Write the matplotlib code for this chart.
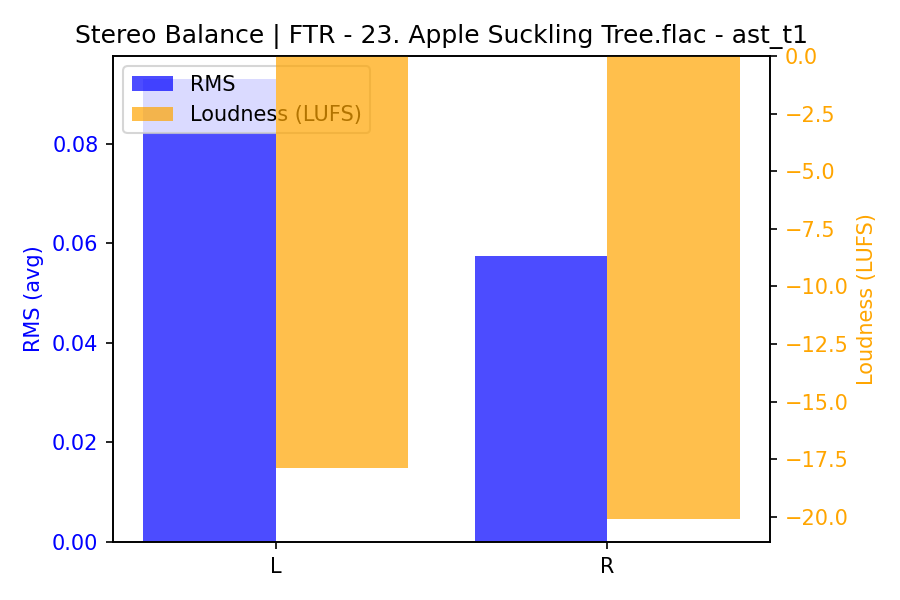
import numpy as np
import matplotlib
matplotlib.use("Agg")
from matplotlib import pyplot as plt

# data
channels = ["L", "R"]
rms_avg = [0.093, 0.0575]
loudness_lufs = [-17.87, -20.08]
title = "Stereo Balance | FTR - 23. Apple Suckling Tree.flac - ast_t1"

BAR_WIDTH = 0.4
x = np.arange(len(channels))

fig, ax1 = plt.subplots(figsize=(6, 4), dpi=150)
ax2 = ax1.twinx()

b1 = ax1.bar(x - BAR_WIDTH/2, rms_avg, width=BAR_WIDTH, color="blue", alpha=0.7, label="RMS")
b2 = ax2.bar(x + BAR_WIDTH/2, loudness_lufs, width=BAR_WIDTH, color="orange", alpha=0.7, label="Loudness (LUFS)")

ax1.set_ylabel("RMS (avg)", color="blue")
ax1.tick_params(axis="y", labelcolor="blue")
ax2.set_ylabel("Loudness (LUFS)", color="orange")
ax2.tick_params(axis="y", labelcolor="orange")

ax1.set_xticks(x)
ax1.set_xticklabels(channels)
ax1.set_title(title)

ax1.legend([b1, b2], ["RMS", "Loudness (LUFS)"], loc="upper left")

fig.subplots_adjust(left=0.1256, right=0.8556, top=0.9067, bottom=0.0967)
fig.savefig("out.png")
